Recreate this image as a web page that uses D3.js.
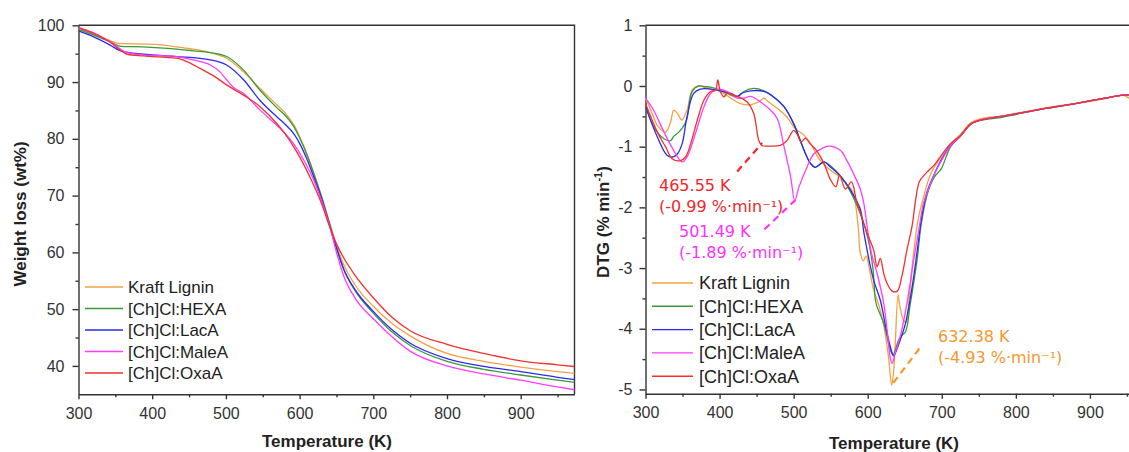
<!DOCTYPE html>
<html>
<head>
<meta charset="utf-8">
<title>TGA and DTG curves</title>
<script src="https://d3js.org/d3.v7.min.js"></script>
<style>
  body { margin: 0; background: #fff; }
  svg { display: block; }
  .tick text { font: 16px "Liberation Sans", Arial, sans-serif; fill: #333; }
  .axis-title { font: bold 17px "Liberation Sans", Arial, sans-serif; fill: #222; }
  .legend text { font-family: "Liberation Sans", Arial, sans-serif; fill: #222; }
  .note { font: 16px "DejaVu Sans", Verdana, sans-serif; }
  .curve { fill: none; stroke-width: 1.3px; }
</style>
</head>
<body>
<svg id="chart" width="1129" height="452"></svg>
<script>
    // series names and colours (shared by both panels)
    const seriesNames = ["Kraft Lignin", "[Ch]Cl:HEXA", "[Ch]Cl:LacA", "[Ch]Cl:MaleA", "[Ch]Cl:OxaA"];
    const seriesColors = ["#f5a044", "#3a9a3a", "#2a2af2", "#ff3cff", "#f2302e"];

    // TGA: [temperature K, weight %]
    const tgaKraft = [[300,99.5],[320,98.5],[343,97.3],[354,96.8],[388,96.7],[410,96.6],[433,96.2],[456,95.8],[479,95.2],[501,94.2],[524,91.8],[546,88.9],[569,86.0],[580,84.6],[592,82.5],[600,80.4],[610,77.3],[620,73.7],[630,69.8],[640,65.6],[650,61.3],[660,57.8],[675,54.3],[700,50.5],[725,47.5],[750,45.3],[800,42.2],[850,40.8],[900,39.8],[950,39.0],[973,38.7]];
    const tgaHexa = [[300,99.3],[320,98.3],[343,97.1],[357,96.3],[388,96.2],[433,95.8],[456,95.5],[479,95.2],[501,94.5],[524,92.1],[546,88.6],[569,85.5],[580,84.2],[592,82.2],[600,80.2],[610,77.2],[620,73.6],[630,69.7],[640,65.3],[650,60.8],[660,57.0],[675,53.3],[700,49.3],[725,46.0],[750,43.6],[800,40.8],[850,39.4],[900,38.4],[950,37.5],[973,37.1]];
    const tgaLacA = [[300,99.0],[320,98.0],[343,96.5],[357,95.5],[388,94.9],[433,94.5],[479,93.9],[501,93.0],[524,90.4],[546,86.8],[569,83.9],[580,82.6],[592,80.9],[600,79.2],[610,76.4],[620,73.0],[630,69.4],[640,65.1],[650,60.8],[660,57.0],[675,53.5],[700,49.6],[725,46.4],[750,44.0],[800,41.3],[850,39.9],[900,39.0],[950,38.0],[973,37.6]];
    const tgaMaleA = [[300,99.6],[320,98.7],[343,97.1],[366,95.2],[388,94.8],[433,94.5],[456,93.9],[479,93.0],[492,91.8],[501,90.4],[510,89.1],[524,88.0],[546,85.1],[569,82.4],[580,81.0],[592,79.1],[605,76.4],[620,72.5],[630,69.0],[640,65.0],[650,60.0],[660,55.8],[675,52.0],[700,48.3],[725,45.2],[750,42.6],[800,40.0],[850,38.6],[900,37.5],[950,36.3],[973,35.8]];
    const tgaOxaA = [[300,99.6],[320,98.6],[343,97.0],[357,95.6],[366,94.9],[388,94.6],[433,94.2],[447,93.6],[465,92.4],[488,90.7],[501,89.5],[524,87.7],[546,85.7],[569,82.7],[580,80.9],[592,78.6],[601,76.6],[615,73.0],[630,68.5],[640,64.8],[650,61.5],[660,59.0],[675,56.0],[700,52.0],[725,48.6],[750,46.2],[800,43.8],[850,42.2],[900,40.9],[950,40.2],[973,39.9]];

    // DTG: [temperature K, %/min]
    const dtgKraft = [[300,-0.2],[308,-0.42],[316,-0.65],[327,-0.76],[334,-0.59],[338,-0.4],[343,-0.45],[349,-0.56],[356,-0.4],[363,-0.07],[372,0],[383,-0.04],[401,-0.09],[415,-0.2],[428,-0.29],[442,-0.31],[453,-0.26],[460,-0.2],[466,-0.26],[478,-0.37],[491,-0.51],[502,-0.7],[514,-0.81],[523,-0.95],[536,-1.23],[550,-1.39],[563,-1.5],[572,-1.62],[580,-1.75],[587,-2.3],[590,-2.75],[594,-2.88],[598,-2.8],[602,-3.0],[608,-3.36],[615,-3.61],[622,-3.97],[628,-4.46],[632.4,-4.93],[635,-4.7],[637,-4.29],[641,-3.44],[643,-3.6],[648,-3.85],[652,-3.9],[656,-3.5],[662,-2.75],[668,-2.2],[675,-1.85],[685,-1.45],[700,-1.15],[712,-0.95],[725,-0.8],[740,-0.6],[760,-0.52],[780,-0.5],[800,-0.45],[840,-0.36],[880,-0.29],[920,-0.21],[945,-0.15],[953,-0.2],[973,-0.24]];
    const dtgHexa = [[300,-0.31],[311,-0.67],[325,-0.87],[334,-0.9],[338,-0.83],[345,-0.76],[352,-0.65],[356,-0.54],[363,-0.09],[372,0],[379,-0.01],[388,-0.02],[401,-0.07],[415,-0.15],[424,-0.18],[433,-0.09],[446,-0.04],[460,-0.08],[473,-0.18],[487,-0.34],[500,-0.62],[509,-0.9],[518,-1.17],[523,-1.28],[529,-1.34],[541,-1.25],[550,-1.32],[563,-1.48],[577,-1.75],[590,-2.1],[600,-2.5],[607,-3.0],[610.4,-3.53],[612.7,-3.64],[621.6,-3.91],[630.6,-4.35],[634,-4.43],[641.8,-4.18],[645,-4.12],[651,-4.05],[657.6,-3.58],[666.7,-2.86],[672,-2.3],[680,-1.8],[690,-1.5],[697,-1.4],[700,-1.35],[712,-1.0],[725,-0.83],[740,-0.62],[760,-0.55],[780,-0.52],[800,-0.47],[840,-0.37],[880,-0.29],[920,-0.2],[945,-0.15],[973,-0.15]];
    const dtgLacA = [[300,-0.34],[316,-0.84],[329,-1.14],[336,-1.17],[343,-1.12],[349.5,-0.95],[356,-0.51],[365,-0.12],[374,-0.05],[388,-0.05],[401,-0.08],[415,-0.12],[424,-0.17],[430,-0.12],[442,-0.08],[460,-0.09],[473,-0.18],[487,-0.34],[500,-0.62],[509,-0.9],[518,-1.17],[523,-1.28],[529,-1.34],[541,-1.25],[550,-1.34],[563,-1.48],[577,-1.72],[590,-2.03],[595,-2.43],[608,-3.2],[617,-3.53],[626,-4.07],[633,-4.4],[635,-4.45],[644,-4.18],[651,-3.91],[660,-3.31],[667,-2.7],[673,-2.15],[680,-1.75],[690,-1.45],[700,-1.2],[712,-0.98],[725,-0.83],[740,-0.62],[760,-0.54],[780,-0.5],[800,-0.46],[840,-0.37],[880,-0.29],[920,-0.2],[945,-0.15],[973,-0.15]];
    const dtgMaleA = [[300,-0.2],[311,-0.4],[325,-0.76],[338,-1.06],[349.5,-1.25],[356,-1.17],[367.5,-0.78],[379,-0.34],[388,-0.12],[397,-0.055],[410,-0.09],[424,-0.2],[433,-0.2],[442,-0.17],[455,-0.26],[469,-0.4],[478,-0.54],[487,-1.0],[496,-1.5],[501.5,-1.89],[507,-1.67],[518,-1.34],[527,-1.12],[538,-1.03],[547,-0.99],[563,-1.06],[572,-1.23],[581,-1.45],[590,-1.7],[595,-1.95],[599,-2.3],[605,-2.75],[612.7,-3.09],[621.6,-3.58],[626,-4.0],[630.6,-4.49],[633,-4.57],[637,-4.4],[644,-4.12],[653,-3.58],[662,-2.87],[669,-2.37],[675,-1.95],[682,-1.7],[690,-1.45],[700,-1.22],[712,-0.98],[725,-0.83],[740,-0.62],[760,-0.54],[780,-0.5],[800,-0.46],[840,-0.37],[880,-0.29],[920,-0.2],[945,-0.15],[973,-0.15]];
    const dtgOxaA = [[300,-0.29],[316,-0.76],[327,-1.0],[336,-1.2],[347,-1.23],[354,-1.17],[361,-0.95],[370,-0.56],[379,-0.23],[388,-0.09],[394.5,-0.07],[397.6,0.1],[401,-0.09],[406,-0.18],[410,-0.12],[419,-0.15],[428,-0.19],[437,-0.26],[446,-0.45],[453,-0.9],[457,-0.98],[465.5,-0.99],[482,-0.98],[491,-0.9],[500,-0.73],[505,-0.8],[510,-0.92],[516,-0.86],[522,-0.95],[530,-1.05],[540,-1.25],[550,-1.55],[557,-1.66],[562,-1.47],[570,-1.7],[578,-1.58],[585,-1.9],[593,-2.2],[600,-2.45],[608,-2.7],[612.7,-2.98],[617,-2.84],[621.6,-3.09],[626,-3.25],[633,-3.38],[640,-3.38],[646,-3.14],[653,-2.7],[660,-2.3],[665,-1.85],[670,-1.57],[680,-1.42],[690,-1.3],[700,-1.13],[712,-0.95],[725,-0.82],[740,-0.62],[760,-0.54],[780,-0.5],[800,-0.46],[840,-0.37],[880,-0.29],[920,-0.2],[945,-0.15],[973,-0.15]];

    const tgaSeries = [tgaKraft, tgaHexa, tgaLacA, tgaMaleA, tgaOxaA];
    const dtgSeries = [dtgKraft, dtgHexa, dtgLacA, dtgMaleA, dtgOxaA];

    // tick values
    const xMajor = [300, 400, 500, 600, 700, 800, 900];
    const xMinor = [350, 450, 550, 650, 750, 850, 950];
    const tgaMajor = [40, 50, 60, 70, 80, 90, 100];
    const tgaMinor = [45, 55, 65, 75, 85, 95];
    const dtgMajor = [-5, -4, -3, -2, -1, 0, 1];
    const dtgMinor = [-4.5, -3.5, -2.5, -1.5, -0.5, 0.5];

    // peak annotations on the DTG panel: [T, value] ends of the dashed leader
    const notes = [
        { color: "#f0262a", lines: ["465.55 K", "(-0.99 %\u00b7min\u207b\u00b9)"], from: [423.8, -1.41], to: [457.5, -0.94], text: [659, 191] },
        { color: "#ff30ff", lines: ["501.49 K", "(-1.89 %\u00b7min\u207b\u00b9)"], from: [460.6, -2.36], to: [502.4, -1.88], text: [679, 237] },
        { color: "#f5972f", lines: ["632.38 K", "(-4.93 %\u00b7min\u207b\u00b9)"], from: [634.7, -4.89], to: [672.5, -4.28], text: [938, 342] }
    ];

    const svg = d3.select("#chart");
    // plain hyphen for negatives, as in the original figure
    const plainNum = d => (d < 0 ? "-" : "") + Math.abs(d);

    function drawPanel(p) {
        const x = d3.scaleLinear().domain([300, 973]).range([p.left, p.right]);
        const y = d3.scaleLinear().domain(p.yDomain).range([p.bottom, p.top]);
        const g = svg.append("g");

        const styleAxis = sel => sel.attr("color", "#333").attr("font-size", null).attr("font-family", null)
            .call(s => s.selectAll("line, path").attr("stroke-width", 1.4));

        g.append("g").attr("transform", `translate(0,${p.bottom})`)
            .call(d3.axisBottom(x).tickValues(xMajor).tickSize(5).tickSizeOuter(0).tickPadding(8).tickFormat(plainNum))
            .call(styleAxis);
        g.append("g").attr("transform", `translate(0,${p.bottom})`)
            .call(d3.axisBottom(x).tickValues(xMinor).tickSize(3).tickFormat(""))
            .call(styleAxis).call(s => s.select(".domain").remove());
        g.append("g").attr("transform", `translate(${p.left},0)`)
            .call(d3.axisLeft(y).tickValues(p.yMajor).tickSize(6).tickSizeOuter(0).tickPadding(p.yPad).tickFormat(plainNum))
            .call(styleAxis);
        g.append("g").attr("transform", `translate(${p.left},0)`)
            .call(d3.axisLeft(y).tickValues(p.yMinor).tickSize(3).tickFormat(""))
            .call(styleAxis).call(s => s.select(".domain").remove());

        // top and right frame
        g.append("path")
            .attr("d", `M${p.left},${p.top}H${p.right}V${p.bottom}`)
            .attr("fill", "none").attr("stroke", "#333").attr("stroke-width", 1.4);

        const line = d3.line().x(d => x(d[0])).y(d => y(d[1])).curve(p.curve);
        g.selectAll(".curve").data(p.series).enter().append("path")
            .attr("class", "curve")
            .attr("stroke", (d, i) => seriesColors[i])
            .attr("d", line);

        // legend
        const lg = g.append("g").attr("class", "legend");
        seriesNames.forEach((name, i) => {
            const ly = p.legend.y + i * p.legend.step;
            lg.append("line").attr("x1", p.legend.x1).attr("x2", p.legend.x2)
                .attr("y1", ly).attr("y2", ly)
                .attr("stroke", seriesColors[i]).attr("stroke-width", 1.4);
            lg.append("text").attr("x", p.legend.tx).attr("y", ly)
                .attr("dy", "0.36em").attr("font-size", p.legend.size).text(name);
        });

        // axis titles
        g.append("text").attr("class", "axis-title").attr("text-anchor", "middle")
            .attr("x", p.xTitle[0]).attr("y", p.xTitle[1]).text("Temperature (K)");
        const yt = g.append("text").attr("class", "axis-title").attr("text-anchor", "middle")
            .attr("transform", `translate(${p.yTitle[0]},${p.yTitle[1]}) rotate(-90)`);
        p.yTitleText(yt);

        return { x, y, g };
    }

    drawPanel({
        left: 78.5, right: 574.5, top: 25.3, bottom: 394.3,
        yDomain: [35, 100], yMajor: tgaMajor, yMinor: tgaMinor, yPad: 8,
        series: tgaSeries, curve: d3.curveMonotoneX,
        legend: { x1: 85, x2: 123, tx: 128, y: 287, step: 21.5, size: 17 },
        xTitle: [327, 447], yTitle: [26, 214],
        yTitleText: t => t.text("Weight loss (wt%)")
    });

    const dtg = drawPanel({
        left: 645.5, right: 1144, top: 25.3, bottom: 393.7,
        yDomain: [-5.07, 1], yMajor: dtgMajor, yMinor: dtgMinor, yPad: 7,
        series: dtgSeries, curve: d3.curveCatmullRom.alpha(0.5),
        legend: { x1: 652, x2: 693, tx: 699, y: 283, step: 23.3, size: 18 },
        xTitle: [894, 449], yTitle: [609, 222],
        yTitleText: t => {
            t.append("tspan").text("DTG (% min");
            t.append("tspan").attr("font-size", 11).attr("dy", -7).text("-1");
            t.append("tspan").attr("dy", 7).text(")");
        }
    });

    // peak call-outs
    notes.forEach(n => {
        dtg.g.append("line")
            .attr("x1", dtg.x(n.from[0])).attr("y1", dtg.y(n.from[1]))
            .attr("x2", dtg.x(n.to[0])).attr("y2", dtg.y(n.to[1]))
            .attr("stroke", n.color).attr("stroke-width", 2.2).attr("stroke-dasharray", "7,5");
        n.lines.forEach((s, k) => {
            dtg.g.append("text").attr("class", "note").attr("fill", n.color)
                .attr("x", n.text[0]).attr("y", n.text[1] + k * 21).text(s);
        });
    });
</script>
</body>
</html>
